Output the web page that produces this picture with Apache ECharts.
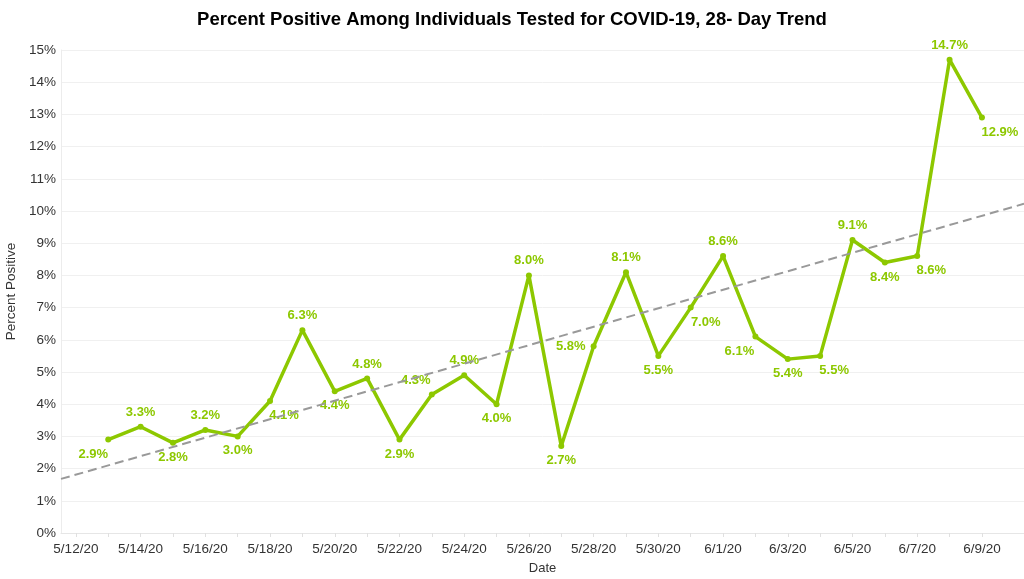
<!DOCTYPE html>
<html>
<head>
<meta charset="utf-8">
<script src="https://cdn.jsdelivr.net/npm/echarts@6/dist/echarts.min.js"></script>
<style>html,body{margin:0;padding:0;background:#fff}#c{width:1024px;height:579px}</style>
</head>
<body>
<div id="c"></div>
<script>
// ---- data ----
const dateLabels = ['5/12/20','5/13/20','5/14/20','5/15/20','5/16/20','5/17/20','5/18/20','5/19/20','5/20/20','5/21/20','5/22/20','5/23/20','5/24/20','5/25/20','5/26/20','5/27/20','5/28/20','5/29/20','5/30/20','5/31/20','6/1/20','6/2/20','6/3/20','6/4/20','6/5/20','6/6/20','6/7/20','6/8/20','6/9/20'];
const pointDates = ['5/13/20','5/14/20','5/15/20','5/16/20','5/17/20','5/18/20','5/19/20','5/20/20','5/21/20','5/22/20','5/23/20','5/24/20','5/25/20','5/26/20','5/27/20','5/28/20','5/29/20','5/30/20','5/31/20','6/1/20','6/2/20','6/3/20','6/4/20','6/5/20','6/6/20','6/7/20','6/8/20','6/9/20'];
const percentPositive = [2.9,3.3,2.8,3.2,3.0,4.1,6.3,4.4,4.8,2.9,4.3,4.9,4.0,8.0,2.7,5.8,8.1,5.5,7.0,8.6,6.1,5.4,5.5,9.1,8.4,8.6,14.7,12.9];
const yTicks = [0,1,2,3,4,5,6,7,8,9,10,11,12,13,14,15];

// ---- label placement (style only) ----
const labelPlace = [
  ['bottom',-15],['top',0],['bottom',0],['top',0],['bottom',0],['bottom',14],['top',0],['bottom',0],
  ['top',0],['bottom',0],['top',-16],['top',0],['bottom',0],['top',0],['bottom',0],['left',0],
  ['top',0],['bottom',0],['bottom',15],['top',0],['bottom',-16],['bottom',0],['bottom',14],['top',0],
  ['bottom',0],['bottom',14],['top',0],['bottom',18]
];

const GREEN = '#8dc800';
const xMin = -0.46, xMax = 29.3;

const xs = pointDates.map(d => dateLabels.indexOf(d));
const lineData = xs.map((x, i) => {
  const [pos, dx] = labelPlace[i];
  return {value: [x, percentPositive[i]], label: {position: pos, offset: [dx, 0]}};
});

// least-squares linear trend
const n = xs.length;
const mx = xs.reduce((a,b)=>a+b,0)/n;
const my = percentPositive.reduce((a,b)=>a+b,0)/n;
let sxy = 0, sxx = 0;
for (let i = 0; i < n; i++) { sxy += (xs[i]-mx)*(percentPositive[i]-my); sxx += (xs[i]-mx)**2; }
const slope = sxy/sxx, intercept = my - slope*mx;
const trendData = [[xMin, intercept + slope*xMin], [xMax, intercept + slope*xMax]];

const evenIdx = dateLabels.map((d,i)=>i).filter(i => i % 2 === 0);
const allIdx = dateLabels.map((d,i)=>i);

const chart = echarts.init(document.getElementById('c'), null, {renderer: 'canvas'});
chart.setOption({
  animation: false,
  backgroundColor: '#fff',
  textStyle: {fontFamily: 'Liberation Sans, Arial, sans-serif'},
  title: {
    text: 'Percent Positive Among Individuals Tested for COVID-19, 28- Day Trend',
    left: 'center', top: 5,
    textStyle: {fontSize: 18.5, fontWeight: 'bold', color: '#000', fontFamily: 'Liberation Sans, Arial, sans-serif'}
  },
  grid: {left: 61, right: 0, top: 50, bottom: 46, containLabel: false, outerBoundsMode: 'none'},
  xAxis: {
    type: 'value', min: xMin, max: xMax,
    name: 'Date', nameLocation: 'middle', nameGap: 29,
    nameTextStyle: {fontSize: 13, color: '#333'},
    axisLine: {show: true, onZero: false, lineStyle: {color: '#e6e6e6', width: 1}},
    axisTick: {show: true, customValues: allIdx, length: 4, lineStyle: {color: '#e0e0e0'}},
    axisLabel: {customValues: evenIdx, formatter: v => dateLabels[Math.round(v)], fontSize: 13.5, color: '#333', margin: 9},
    splitLine: {show: false}
  },
  yAxis: {
    type: 'value', min: yTicks[0], max: yTicks[yTicks.length-1], interval: 1,
    name: 'Percent Positive', nameLocation: 'middle', nameGap: 42, nameRotate: 90,
    nameTextStyle: {fontSize: 13.5, color: '#333'},
    axisLine: {show: true, onZero: false, lineStyle: {color: '#ececec'}},
    axisTick: {show: false},
    axisLabel: {formatter: v => v + '%', fontSize: 13.5, color: '#333', margin: 5},
    splitLine: {lineStyle: {color: '#f0f0f0', width: 1}}
  },
  series: [
    {
      type: 'line', data: trendData, symbol: 'none', silent: true, z: 3,
      lineStyle: {color: '#999', width: 2, type: [9, 5]}
    },
    {
      type: 'line', data: lineData, symbol: 'circle', symbolSize: 6, z: 2,
      lineStyle: {color: GREEN, width: 3.5},
      itemStyle: {color: GREEN},
      label: {show: true, formatter: p => p.value[1].toFixed(1) + '%', color: GREEN, fontWeight: 'bold', fontSize: 13, distance: 5}
    }
  ]
});
</script>
</body>
</html>
